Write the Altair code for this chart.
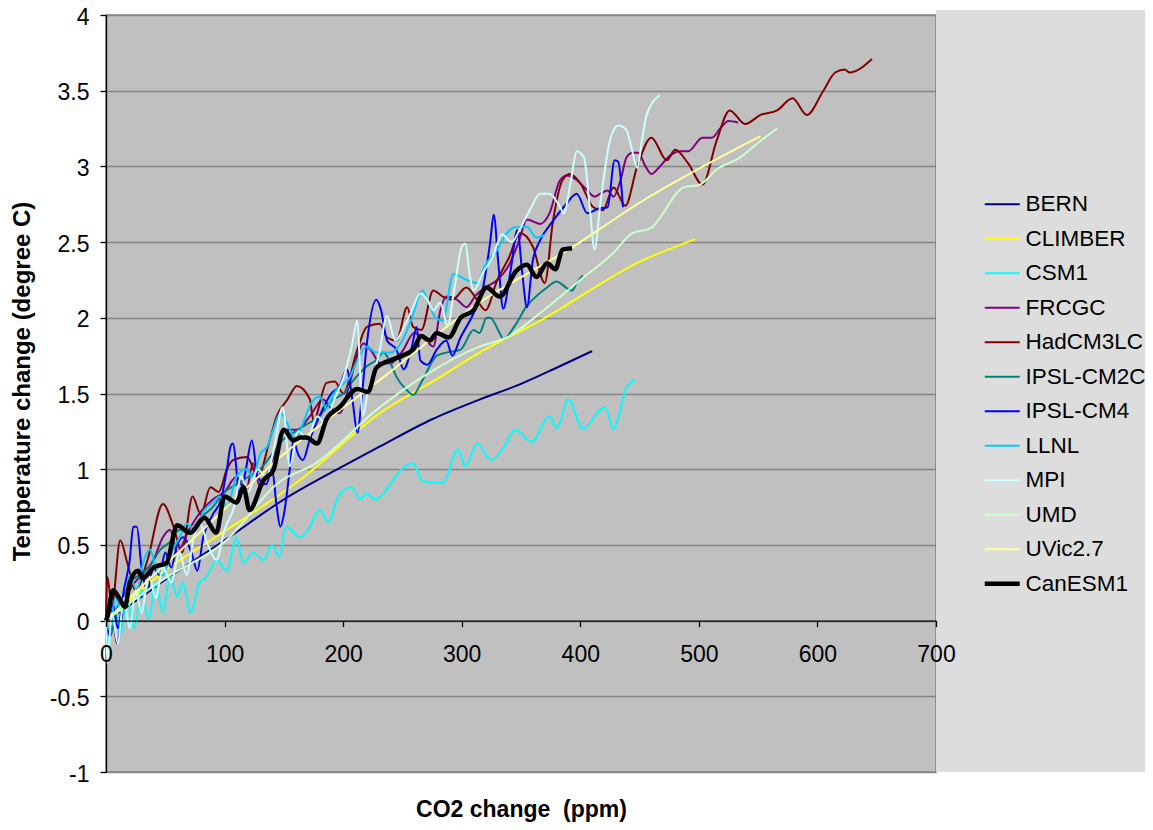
import altair as alt
import pandas as pd

# ---------------- data ----------------
models = ["BERN", "CLIMBER", "CSM1", "FRCGC", "HadCM3LC", "IPSL-CM2C",
          "IPSL-CM4", "LLNL", "MPI", "UMD", "UVic2.7", "CanESM1"]
colors = ["#000080", "#FFFF00", "#00FFFF", "#800080", "#800000", "#008080",
          "#0000FF", "#00CCFF", "#CCFFFF", "#CCFFCC", "#FFFF99", "#000000"]

bern_x = [0, 25, 50, 100, 150, 200, 231, 275, 315, 349, 380, 410]
bern_y = [0, 0.13, 0.27, 0.53, 0.80, 1.02, 1.15, 1.33, 1.46, 1.56, 1.67, 1.78]

climber_x = [0, 50, 100, 164, 231, 282, 315, 366, 450, 497]
climber_y = [0, 0.33, 0.59, 0.93, 1.37, 1.61, 1.77, 1.98, 2.37, 2.52]

csm1_x = [2, 8, 12, 18, 24, 30, 36, 42, 48, 54, 60, 65, 71, 79, 85, 93, 102, 110,
          116, 124, 133, 140, 146, 152, 164, 172, 180, 188, 196, 207, 214, 220,
          227, 234, 248, 259, 267, 284, 297, 303, 313, 325, 336, 345, 359, 374,
          380, 390, 402, 421, 428, 439, 446]
csm1_y = [-0.15, 0.1, -0.1, 0.15, -0.05, 0.2, 0.0, 0.25, 0.05, 0.3, 0.16, 0.25,
          0.05, 0.25, 0.29, 0.40, 0.33, 0.55, 0.38, 0.45, 0.40, 0.50, 0.42, 0.62,
          0.55, 0.62, 0.73, 0.65, 0.82, 0.88, 0.80, 0.84, 0.80, 0.84, 0.99, 1.04,
          0.92, 0.91, 1.13, 1.02, 1.17, 1.06, 1.15, 1.26, 1.18, 1.35, 1.27, 1.46,
          1.27, 1.41, 1.27, 1.54, 1.59]

frcgc_x = [0, 5, 9, 14, 20, 30, 40, 48, 54, 60, 70, 80, 90, 100, 110, 118, 124,
           130, 140, 152, 161, 172, 183, 190, 197, 205, 212, 217, 224, 231, 240,
           250, 260, 270, 276, 282, 287, 296, 304, 312, 320, 330, 340, 348, 355,
           366, 374, 383, 389, 395, 405, 412, 417, 423, 428, 434, 439, 444, 449,
           455, 460, 466, 474, 484, 491, 503, 511, 518, 525, 533]
frcgc_y = [0, 0.1, -0.15, 0.05, 0.2, 0.3, 0.4, 0.55, 0.60, 0.45, 0.6, 0.72, 0.8,
           0.85, 0.95, 0.85, 1.04, 0.88, 1.05, 1.26, 1.26, 1.35, 1.46, 1.40, 1.37,
           1.55, 1.75, 1.83, 1.78, 1.70, 1.70, 1.78, 1.90, 1.85, 1.81, 2.05, 2.14,
           2.12, 2.07, 2.15, 2.20, 2.25, 2.35, 2.50, 2.65, 2.62, 2.69, 2.91, 2.94,
           2.92, 2.85, 2.80, 2.82, 2.84, 2.80, 2.91, 3.06, 3.09, 3.09, 3.0, 2.95,
           2.99, 3.06, 3.10, 3.10, 3.19, 3.19, 3.25, 3.30, 3.29]

had_x = [0, 1, 5, 12, 18, 25, 35, 48, 57, 64, 73, 80, 88, 95, 102, 107, 119, 128,
         138, 144, 153, 161, 172, 175, 186, 193, 200, 212, 220, 231, 237, 245,
         254, 259, 266, 276, 284, 292, 304, 312, 320, 330, 340, 349, 360, 370,
         377, 385, 391, 400, 411, 419, 428, 438, 448, 460, 473, 480, 491, 503,
         515, 526, 539, 552, 566, 579, 591, 605, 615, 623, 627, 646]
had_y = [0.0, 0.29, 0.1, 0.53, 0.38, 0.2, 0.40, 0.77, 0.62, 0.45, 0.82, 0.7,
         0.88, 0.85, 1.00, 1.06, 1.08, 0.95, 1.19, 1.35, 1.46, 1.55, 1.46, 1.32,
         1.57, 1.58, 1.50, 1.79, 1.94, 1.96, 1.87, 1.85, 2.07, 1.94, 1.92, 2.18,
         2.14, 2.12, 2.20, 2.13, 2.05, 2.25, 2.40, 2.56, 2.47, 2.23, 2.64, 2.91,
         2.95, 2.89, 2.73, 2.71, 2.86, 2.74, 3.0, 3.19, 3.04, 3.11, 3.02, 2.88,
         3.17, 3.37, 3.28, 3.34, 3.37, 3.45, 3.34, 3.50, 3.62, 3.64, 3.62, 3.71]

ipsl2_x = [0, 4, 8, 14, 20, 28, 36, 46, 54, 62, 70, 80, 90, 100, 110, 120, 130,
           140, 150, 160, 170, 180, 190, 200, 210, 220, 228, 234, 240, 245, 254,
           259, 267, 279, 287, 299, 310, 315, 321, 324, 332, 335, 345, 355, 364,
           372, 380, 388, 393, 397, 402]
ipsl2_y = [0, -0.1, 0.05, 0.15, 0.25, 0.3, 0.35, 0.47, 0.52, 0.6, 0.58, 0.68,
           0.75, 0.85, 0.9, 0.95, 1.0, 1.1, 1.2, 1.25, 1.3, 1.35, 1.45, 1.5, 1.6,
           1.68, 1.72, 1.77, 1.7, 1.61, 1.52, 1.49, 1.59, 1.75, 1.77, 1.79, 1.92,
           1.90, 2.0, 2.0, 1.90, 1.86, 1.95, 2.08, 2.15, 2.20, 2.24, 2.20, 2.18,
           2.23, 2.28]

ipsl4_x = [0, 3, 6, 10, 15, 20, 23, 26, 30, 35, 40, 45, 50, 55, 60, 65, 72, 77,
           82, 90, 97, 102, 105, 107, 113, 118, 123, 128, 135, 140, 144, 147, 150,
           155, 158, 162, 166, 172, 180, 190, 197, 203, 208, 212, 216, 220, 228,
           232, 237, 245, 251, 258, 262, 265, 271, 279, 287, 292, 299, 310, 318,
           324, 327, 331, 335, 341, 347, 351, 355, 360, 366, 377, 388, 397, 406,
           415, 423, 429, 432, 436]
ipsl4_y = [0, -0.1, 0.11, -0.05, 0.2, 0.4, 0.62, 0.62, 0.35, 0.20, 0.35, 0.3,
           0.45, 0.35, 0.5, 0.55, 0.45, 0.33, 0.55, 0.7, 0.8, 1.0, 1.15, 1.17,
           0.82, 1.0, 1.19, 0.95, 0.9, 1.0, 0.75, 0.62, 0.7, 1.0, 1.19, 1.1, 1.06,
           1.2, 1.35, 1.5, 1.55, 1.66, 1.45, 1.24, 1.5, 1.83, 2.12, 2.05, 1.85,
           1.79, 1.66, 1.81, 1.94, 1.72, 1.69, 1.79, 1.85, 1.75, 1.87, 2.03, 2.2,
           2.5, 2.68, 2.35, 2.06, 2.3, 2.58, 2.3, 2.07, 2.38, 2.51, 2.64, 2.75,
           2.82, 2.69, 2.72, 2.73, 3.04, 3.03, 2.73]

llnl_x = [0, 3, 8, 14, 20, 26, 32, 37, 42, 48, 55, 62, 68, 75, 82, 90, 96, 102,
          110, 118, 124, 130, 136, 141, 147, 153, 160, 166, 172, 180, 186, 192,
          198, 205, 212, 220, 228, 240, 250, 258, 267, 272, 278, 284, 293, 304,
          313, 320, 330, 338, 347, 355, 363, 370]
llnl_y = [0, -0.06, 0.15, 0.05, 0.3, 0.2, 0.4, 0.47, 0.35, 0.3, 0.45, 0.55, 0.64,
          0.6, 0.72, 0.78, 0.82, 0.75, 0.95, 1.0, 0.95, 1.1, 1.15, 1.26, 1.37,
          1.3, 1.2, 1.3, 1.42, 1.48, 1.4, 1.5, 1.55, 1.6, 1.72, 1.81, 1.77, 1.77,
          1.85, 2.0, 2.18, 2.1, 2.0, 1.98, 2.29, 2.25, 2.23, 2.35, 2.45, 2.56,
          2.60, 2.60, 2.53, 2.55]

mpi_x = [0, 1, 5, 10, 15, 20, 25, 30, 36, 42, 48, 55, 62, 68, 74, 79, 86, 93,
         100, 108, 114, 120, 128, 135, 142, 149, 155, 162, 170, 178, 185, 192,
         200, 207, 212, 214, 216, 222, 230, 237, 244, 252, 258, 265, 271, 276,
         282, 288, 294, 300, 303, 307, 310, 318, 326, 334, 342, 350, 358, 366,
         374, 383, 386, 392, 397, 403, 408, 412, 417, 425, 432, 439, 443, 448,
         452, 456, 467]
mpi_y = [0, -0.28, 0.05, -0.15, 0.15, -0.05, 0.2, 0.05, 0.3, 0.15, 0.35, 0.25,
         0.45, 0.3, 0.55, 0.64, 0.5, 0.40, 0.6, 0.75, 0.95, 0.85, 1.0, 0.95, 1.15,
         1.41, 1.02, 1.25, 1.2, 1.35, 1.3, 1.45, 1.6, 1.8, 1.98, 1.7, 1.35, 1.55,
         1.75, 2.01, 1.85, 1.95, 2.05, 2.16, 2.12, 2.05, 2.1, 1.95, 2.2, 2.47,
         2.49, 2.27, 2.18, 2.3, 2.4, 2.55, 2.5, 2.6, 2.72, 2.82, 2.82, 2.73, 2.69,
         2.9, 3.10, 3.06, 2.73, 2.45, 2.76, 3.17, 3.27, 3.24, 3.13, 2.99, 3.17,
         3.34, 3.47]

umd_x = [0, 50, 100, 147, 175, 231, 267, 315, 338, 366, 400, 428, 444, 459, 487,
         501, 515, 535, 549, 566]
umd_y = [0, 0.28, 0.52, 0.92, 1.03, 1.41, 1.61, 1.81, 1.87, 2.03, 2.25, 2.43,
         2.56, 2.59, 2.86, 2.88, 2.98, 3.06, 3.15, 3.25]

uvic_x = [0, 40, 79, 147, 231, 315, 394, 450, 552]
uvic_y = [0, 0.3, 0.58, 1.08, 1.59, 2.10, 2.47, 2.76, 3.2]

canesm_x = [0, 1, 6, 11, 16, 20, 27, 31, 40, 51, 60, 71, 83, 93, 100, 110, 116,
            121, 133, 141, 150, 158, 164, 169, 178, 186, 197, 212, 221, 228, 240,
            250, 259, 266, 273, 279, 289, 299, 310, 321, 332, 346, 355, 363, 372,
            379, 385, 393]
canesm_y = [0, 0.02, 0.20, 0.15, 0.09, 0.25, 0.33, 0.28, 0.35, 0.38, 0.63, 0.58,
            0.68, 0.58, 0.82, 0.78, 0.88, 0.73, 0.93, 0.99, 1.26, 1.19, 1.21,
            1.21, 1.17, 1.33, 1.41, 1.53, 1.51, 1.67, 1.72, 1.75, 1.79, 1.88,
            1.85, 1.90, 1.87, 2.00, 2.05, 2.20, 2.14, 2.31, 2.35, 2.27, 2.36,
            2.32, 2.45, 2.46]

series_x = [bern_x, climber_x, csm1_x, frcgc_x, had_x, ipsl2_x, ipsl4_x,
            llnl_x, mpi_x, umd_x, uvic_x, canesm_x]
series_y = [bern_y, climber_y, csm1_y, frcgc_y, had_y, ipsl2_y, ipsl4_y,
            llnl_y, mpi_y, umd_y, uvic_y, canesm_y]

x_ticks = [0, 100, 200, 300, 400, 500, 600, 700]
y_ticks = [-1, -0.5, 0, 0.5, 1, 1.5, 2, 2.5, 3, 3.5, 4]

rows = []
for m, xs, ys in zip(models, series_x, series_y):
    for i, (xv, yv) in enumerate(zip(xs, ys)):
        rows.append({"model": m, "co2": xv, "temp": yv, "i": i})
df = pd.DataFrame(rows)

# ---------------- chart ----------------
PW, PH = 830, 757
FONT = "Liberation Sans"

panel = alt.Chart(alt.Data(values=[{}])).mark_rect(
    color="#DDDDDD", clip=False
).encode(
    x=alt.value(PW), x2=alt.value(PW + 209),
    y=alt.value(-5), y2=alt.value(PH)
)

lines = alt.Chart(df).mark_line(interpolate="monotone", clip=False).encode(
    x=alt.X("co2:Q",
            scale=alt.Scale(domain=[0, 700], nice=False),
            axis=alt.Axis(values=x_ticks, title="CO2 change \u00a0(ppm)",
                          orient="bottom", offset=-PH / 5, grid=False,
                          labelFlush=False, zindex=1,
                          domainColor="#000000", domainWidth=1.3,
                          tickColor="#000000", tickSize=6, tickWidth=1.3,
                          labelFontSize=23, labelColor="#000000",
                          labelPadding=17, labelFont=FONT,
                          titleFontSize=23, titleFontWeight="bold",
                          titleFont=FONT, titleColor="#000000",
                          titleY=201, titleBaseline="bottom")),
    y=alt.Y("temp:Q",
            scale=alt.Scale(domain=[-1, 4], nice=False, zero=False),
            axis=alt.Axis(values=y_ticks, title="Temperature change (degree C)",
                          labelExpr="'' + datum.value", labelFlush=False,
                          labelOffset=2,
                          grid=True, gridColor="#858585", gridWidth=1.6,
                          domainColor="#000000", domainWidth=1.3,
                          tickColor="#000000", tickSize=6, tickWidth=1.3,
                          labelFontSize=23, labelColor="#000000",
                          labelPadding=11, labelFont=FONT,
                          titleFontSize=24, titleFontWeight="bold",
                          titleFont=FONT, titleColor="#000000",
                          titleX=-84, titleY=366, titleBaseline="middle")),
    color=alt.Color("model:N",
                    scale=alt.Scale(domain=models, range=colors),
                    legend=alt.Legend(
                        title=None, orient="none", legendX=885, legendY=178,
                        symbolType="stroke", symbolSize=1225,
                        symbolStrokeWidth=alt.ExprRef(
                            expr="datum.value === 'CanESM1' ? 4.5 : 1.8"),
                        labelFontSize=22.5,
                        labelFont=FONT, labelColor="#000000",
                        labelOffset=12, rowPadding=11.5)),
    strokeWidth=alt.condition(alt.datum.model == "CanESM1",
                              alt.value(4.5), alt.value(2.0)),
    order="i:Q",
)

chart = alt.layer(panel, lines).properties(
    width=PW, height=PH,
    autosize=alt.AutoSizeParams(type="none"),
    padding={"left": 98, "top": 7, "right": 209, "bottom": 50},
    background="#FFFFFF",
).configure_view(
    fill="#C0C0C0", stroke="#808080", strokeWidth=1.5
)

chart.save("out.html", embed_options={"renderer": "svg", "actions": False})
